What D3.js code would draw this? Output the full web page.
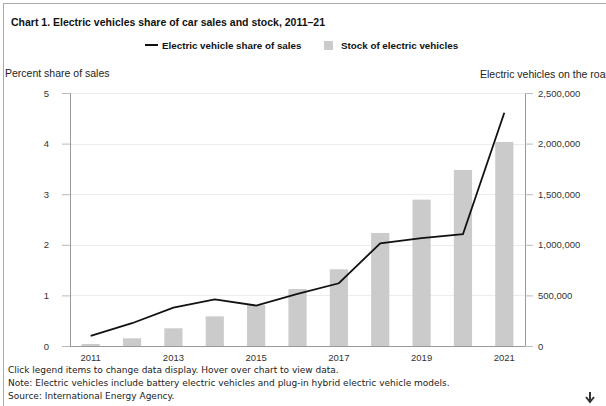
<!DOCTYPE html>
<html>
<head>
<meta charset="utf-8">
<script src="https://cdn.jsdelivr.net/npm/d3@7"></script>
<style>
  html, body { margin: 0; padding: 0; background: #fff; overflow: hidden; }
  svg { display: block; }
</style>
</head>
<body>
<div id="chart"></div>
<script>
// data
const years = ["2011", "2012", "2013", "2014", "2015", "2016", "2017", "2018", "2019", "2020", "2021"];
const salesShare = [0.2, 0.45, 0.76, 0.92, 0.8, 1.03, 1.24, 2.03, 2.13, 2.21, 4.61];
const evStock = [20000, 76000, 175000, 293000, 405000, 563000, 758000, 1117000, 1446000, 1739000, 2016000];
const leftTicks = [0, 1, 2, 3, 4, 5];
const rightTicks = [0, 500000, 1000000, 1500000, 2000000, 2500000];
const tickYears = ["2011", "2013", "2015", "2017", "2019", "2021"];

const width = 606, height = 406;
const margin = {top: 93, right: 81, bottom: 60, left: 70};

const svg = d3.select("#chart").append("svg")
    .attr("width", width)
    .attr("height", height);

// outer frame
svg.append("rect")
    .attr("x", 3.5).attr("y", 3.5)
    .attr("width", width + 10).attr("height", height + 10)
    .attr("fill", "none")
    .attr("stroke", "#aaa");

const x = d3.scaleBand()
    .domain(years)
    .range([margin.left, width - margin.right])
    .paddingInner(0.56)
    .paddingOuter(0.28);

const yL = d3.scaleLinear().domain([0, 5]).range([height - margin.bottom, margin.top]);
const yR = d3.scaleLinear().domain([0, 2500000]).range([height - margin.bottom, margin.top]);

// title
svg.append("text")
    .attr("x", 11).attr("y", 26)
    .style("font", "bold 10.5px 'Liberation Sans', Arial, sans-serif")
    .attr("fill", "#111")
    .text("Chart 1. Electric vehicles share of car sales and stock, 2011\u201321");

// legend
const legend = svg.append("g")
    .style("font", "bold 9.8px 'Liberation Sans', Arial, sans-serif")
    .attr("fill", "#111");
legend.append("line")
    .attr("x1", 145).attr("x2", 158).attr("y1", 45).attr("y2", 45)
    .attr("stroke", "#111").attr("stroke-width", 2);
legend.append("text").attr("x", 162).attr("y", 48.5).text("Electric vehicle share of sales");
legend.append("rect")
    .attr("x", 324).attr("y", 41).attr("width", 9).attr("height", 9)
    .attr("fill", "#cbcbcb");
legend.append("text").attr("x", 341).attr("y", 48.5).text("Stock of electric vehicles");

// axis titles (the right one runs off the edge, as in the original)
svg.append("text")
    .attr("x", 5).attr("y", 77)
    .style("font", "10.5px 'Liberation Sans', Arial, sans-serif")
    .attr("fill", "#222")
    .text("Percent share of sales");
svg.append("text")
    .attr("x", 480).attr("y", 78)
    .style("font", "10.5px 'Liberation Sans', Arial, sans-serif")
    .attr("fill", "#222")
    .text("Electric vehicles on the road");

// gridlines
svg.append("g")
    .selectAll("line")
    .data(leftTicks.slice(1))
    .join("line")
    .attr("x1", margin.left).attr("x2", width - margin.right)
    .attr("y1", d => Math.round(yL(d)) + 0.5).attr("y2", d => Math.round(yL(d)) + 0.5)
    .attr("stroke", "#ececec");

// bars
svg.append("g")
    .selectAll("rect")
    .data(evStock)
    .join("rect")
    .attr("x", (d, i) => x(years[i]))
    .attr("width", x.bandwidth())
    .attr("y", d => yR(d))
    .attr("height", d => yR(0) - yR(d))
    .attr("fill", "#cbcbcb");

// axes
const axisFont = "9.5px 'Liberation Sans', Arial, sans-serif";
const gL = svg.append("g")
    .attr("transform", `translate(${margin.left},0)`)
    .call(d3.axisLeft(yL).tickValues(leftTicks).tickSize(8).tickPadding(13).tickFormat(d3.format("d")));
const gR = svg.append("g")
    .attr("transform", `translate(${width - margin.right},0)`)
    .call(d3.axisRight(yR).tickValues(rightTicks).tickSize(8).tickPadding(5).tickFormat(d3.format(",")));
const gB = svg.append("g")
    .attr("transform", `translate(0,${height - margin.bottom})`)
    .call(d3.axisBottom(x).tickValues(tickYears).tickSize(0).tickPadding(8));

[gL, gR, gB].forEach(g => {
    g.select(".domain").attr("stroke", "#999");
    g.selectAll(".tick line").attr("stroke", "#bbb");
    g.selectAll("text").style("font", axisFont).attr("fill", "#333");
});
gB.select(".domain").attr("d", `M${margin.left},0.5H${width - margin.right}`);

// line
const line = d3.line()
    .x((d, i) => x(years[i]) + x.bandwidth() / 2)
    .y(d => yL(d));
svg.append("path")
    .datum(salesShare)
    .attr("d", line)
    .attr("fill", "none")
    .attr("stroke", "#111")
    .attr("stroke-width", 1.8);

// notes
const notes = [
    "Click legend items to change data display. Hover over chart to view data.",
    "Note: Electric vehicles include battery electric vehicles and plug-in hybrid electric vehicle models.",
    "Source: International Energy Agency."
];
svg.append("g")
    .style("font", "9px 'DejaVu Sans', sans-serif")
    .attr("fill", "#222")
    .selectAll("text")
    .data(notes)
    .join("text")
    .attr("x", 8)
    .attr("y", (d, i) => 373 + i * 13)
    .text(d => d);

// download arrow
svg.append("path")
    .attr("d", "M590,392V401M586,397L590,402L594,397")
    .attr("fill", "none")
    .attr("stroke", "#333")
    .attr("stroke-width", 2);
</script>
</body>
</html>
